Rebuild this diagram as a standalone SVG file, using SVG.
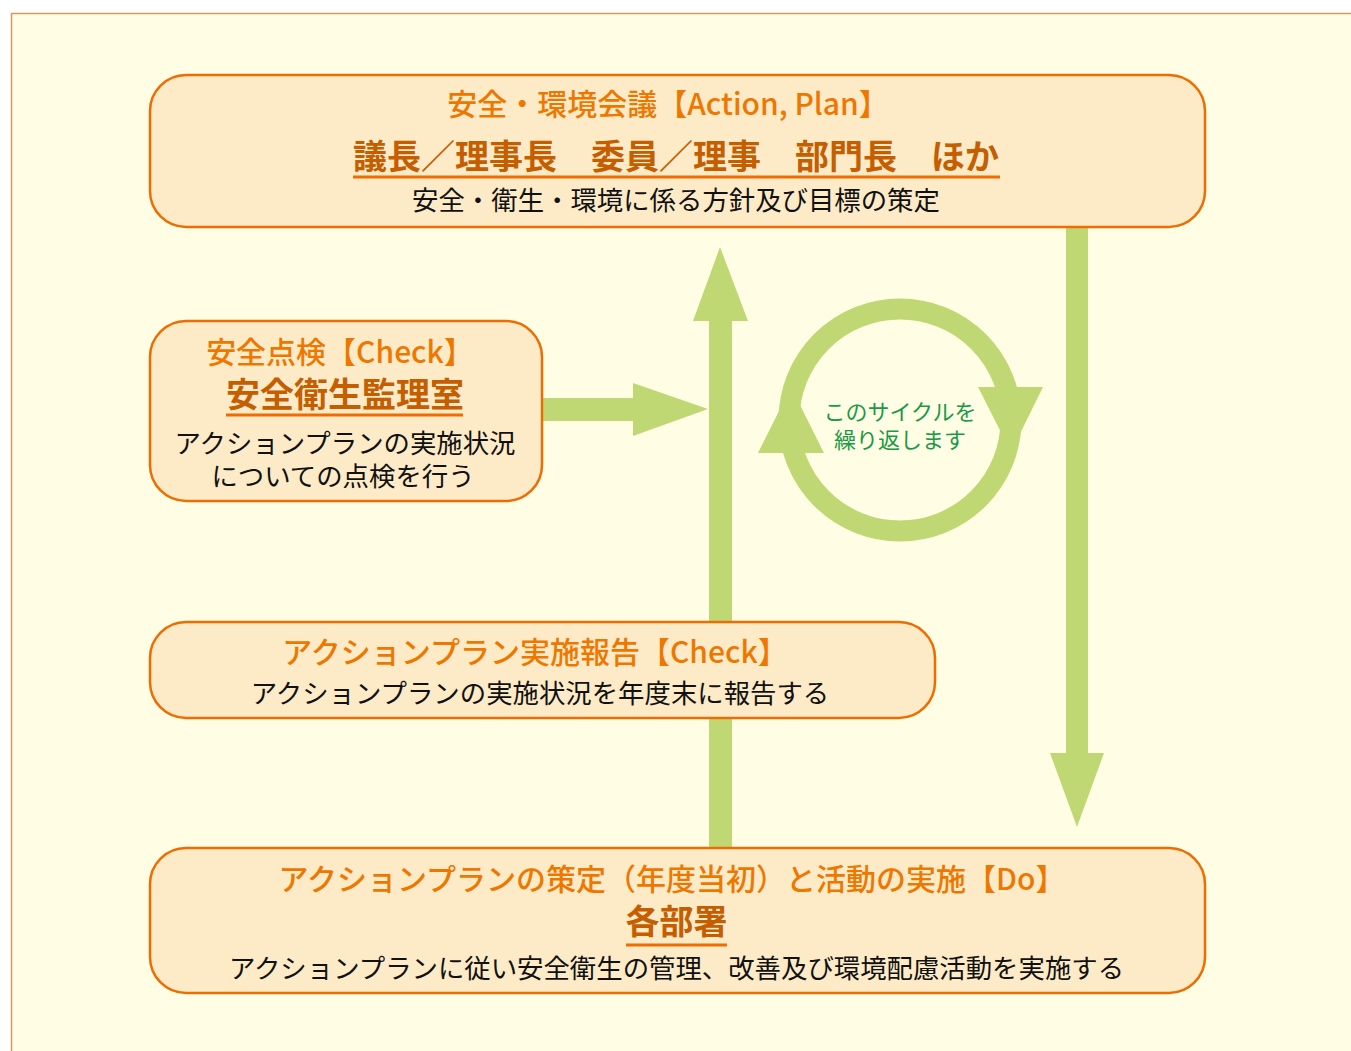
<svg xmlns="http://www.w3.org/2000/svg" width="1351" height="1051" viewBox="0 0 1351 1051">
<style>
.box{fill:#FDEBC8;stroke:#EE6C00;stroke-width:2.5}
.g{fill:#C0D873}
.hd{font-family:"Noto Sans CJK JP","Noto Sans",sans-serif;font-size:30px;font-weight:500;fill:#EE7700;text-anchor:middle}
.nm{font-family:"Noto Sans CJK JP","Noto Sans",sans-serif;font-size:34px;font-weight:bold;fill:#C45E00;text-anchor:middle}
.tx{font-family:"Noto Sans CJK JP","Noto Sans",sans-serif;font-size:26.4px;fill:#111;text-anchor:middle}
.ul{stroke:#EE6C00;stroke-width:3}
.cy{font-family:"Noto Sans CJK JP","Noto Sans",sans-serif;font-size:22px;fill:#1A9A48;text-anchor:middle}
</style>
<rect x="0" y="0" width="1351" height="1051" fill="#FFFFFF"/>
<rect x="11.5" y="13.5" width="1400" height="1100" fill="#FFFDE3" stroke="#D49A62" stroke-width="1.5"/>

<g id="connectors">
  <polygon class="g" points="1066,226 1088,226 1088,753 1104,753 1077,827 1050,753 1066,753"/>
  <polygon class="g" points="709,850 732,850 732,321 748,321 720,247 693,321 709,321"/>
  <polygon class="g" points="540,398 633,398 633,383 708,409 633,436 633,421 540,421"/>
  <g id="cycle">
    <circle cx="900" cy="420" r="111" fill="none" stroke="#C0D873" stroke-width="21"/>
    <polygon class="g" points="978,387 1043,387 1011,452"/>
    <polygon class="g" points="758,453 824,453 791,387"/>
    <text class="cy"><tspan x="900" y="420">このサイクルを</tspan><tspan x="900" y="448">繰り返します</tspan></text>
  </g>
</g>

<g id="node-plan">
  <rect class="box" x="150" y="75" width="1055" height="152" rx="36"/>
  <text class="hd" x="668" y="115">安全・環境会議【Action, Plan】</text>
  <text class="nm" x="676" y="169">議長／理事長　委員／理事　部門長　ほか</text>
  <line class="ul" x1="353" y1="177" x2="1000" y2="177"/>
  <text class="tx" x="676" y="210">安全・衛生・環境に係る方針及び目標の策定</text>
</g>

<g id="node-check">
  <rect class="box" x="150" y="321" width="392" height="180" rx="36"/>
  <text class="hd" x="340" y="363">安全点検【Check】</text>
  <text class="nm" x="345" y="407">安全衛生監理室</text>
  <line class="ul" x1="226" y1="415" x2="463" y2="415"/>
  <text class="tx"><tspan x="345" y="453">アクションプランの実施状況</tspan><tspan x="343" y="486">についての点検を行う</tspan></text>
</g>

<g id="node-report">
  <rect class="box" x="150" y="622" width="785" height="96" rx="36"/>
  <text class="hd" x="535" y="663">アクションプラン実施報告【Check】</text>
  <text class="tx" x="540" y="703">アクションプランの実施状況を年度末に報告する</text>
</g>

<g id="node-do">
  <rect class="box" x="150" y="848" width="1055" height="145" rx="36"/>
  <text class="hd" x="672" y="890">アクションプランの策定（年度当初）と活動の実施【Do】</text>
  <text class="nm" x="676.5" y="934">各部署</text>
  <line class="ul" x1="626" y1="945" x2="727" y2="945"/>
  <text class="tx" x="676.5" y="978">アクションプランに従い安全衛生の管理、改善及び環境配慮活動を実施する</text>
</g>
</svg>
